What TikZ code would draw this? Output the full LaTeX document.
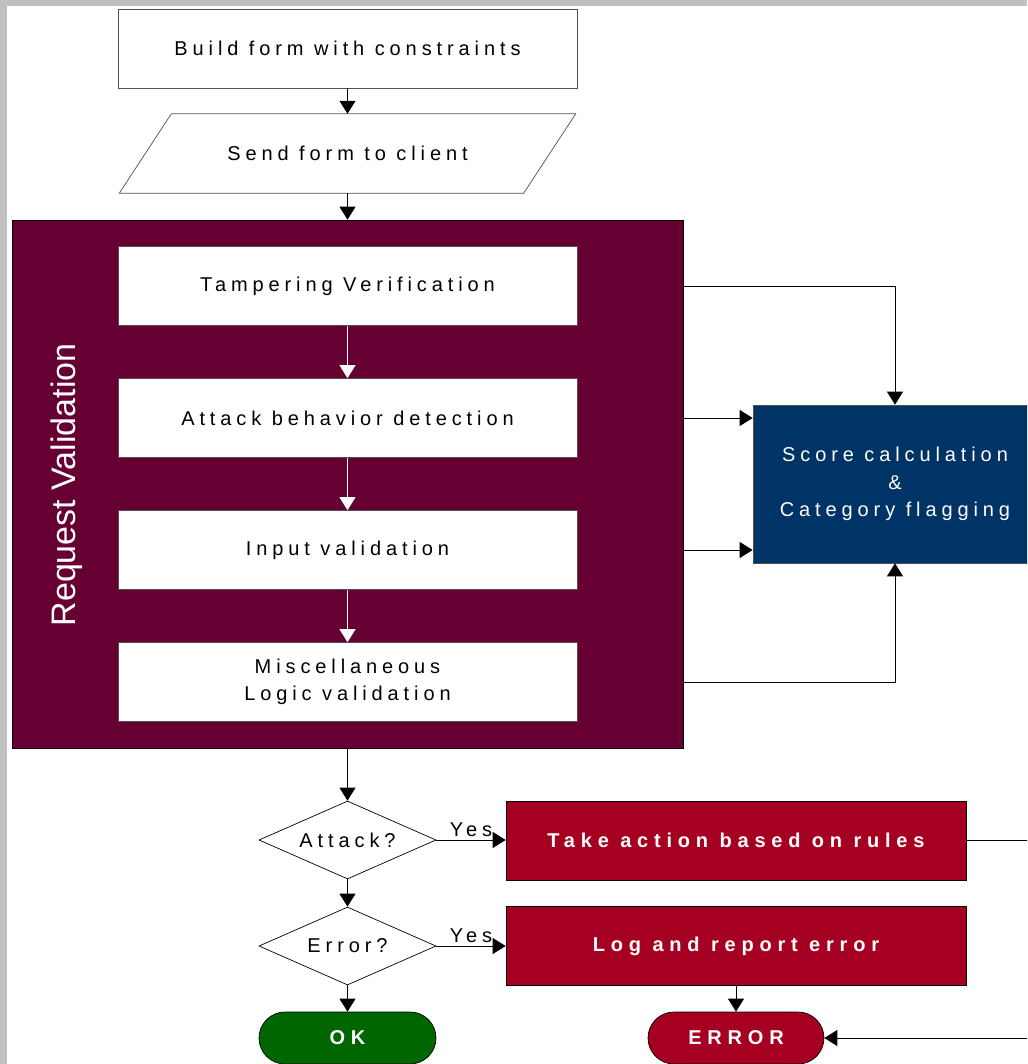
\documentclass[tikz,border=0pt]{standalone}
\usepackage{fontspec}
\setmainfont{Liberation Sans}
\newfontfamily\trackfont[LetterSpace=24.5]{Liberation Sans}
\newfontfamily\trackbold[LetterSpace=29]{Liberation Sans}
\usetikzlibrary{shapes.geometric,arrows.meta,calc}
\definecolor{bgray}{HTML}{C0C0C0}
\definecolor{maroon}{HTML}{660033}
\definecolor{navy}{HTML}{003366}
\definecolor{crimson}{HTML}{A50021}
\definecolor{dgreen}{HTML}{006600}
\definecolor{edge}{HTML}{505050}
\tikzset{
  txt/.style={font=\trackfont\fontsize{20}{27.5}\selectfont, align=center},
  bold/.style={font=\trackbold\bfseries\fontsize{20}{27.5}\selectfont, align=center},
  wbox/.style={txt, rectangle, draw=edge, line width=0.7pt, fill=white, minimum width=459pt, minimum height=79pt, inner sep=0pt},
  rbox/.style={bold, rectangle, draw=black, line width=0.7pt, fill=crimson, text=white, minimum width=460pt, minimum height=79pt, inner sep=0pt},
  dia/.style={txt, diamond, draw=black, line width=0.7pt, fill=white, aspect=2.27, minimum width=177pt, minimum height=78pt, inner sep=0pt},
  term/.style={bold, rectangle, rounded corners=26pt, draw=black, line width=0.7pt, text=white, minimum width=177pt, minimum height=52pt, inner sep=0pt},
  arr/.style={-{Triangle[length=13pt,width=16pt]}, line width=0.8pt, draw=black},
  warr/.style={-{Triangle[length=13pt,width=16pt]}, line width=0.8pt, draw=white},
  glabel/.style={txt, anchor=south, inner sep=0pt, yshift=2.5pt}
}
\begin{document}
\begin{tikzpicture}[x=1pt,y=-1pt]
\useasboundingbox (0,0) rectangle (1027,1064);
\clip (0,0) rectangle (1027,1064);
\fill[bgray] (0,0) rectangle (1027,1064);
\fill[white] (7,6) rectangle (1027,1064);

% top steps
\node[wbox] (build) at (347.5,48.5) {Build form with constraints};
\node[txt, minimum width=404pt, minimum height=79pt, inner sep=0pt] (send) at (347.5,153.5) {Send form to client};
\draw[edge, line width=0.7pt, fill=white] ([xshift=26pt]send.north west) -- ([xshift=26pt]send.north east) -- ([xshift=-26pt]send.south east) -- ([xshift=-26pt]send.south west) -- cycle;
\node[txt, minimum width=404pt, minimum height=79pt, inner sep=0pt] at (send.center) {Send form to client};

% request validation group
\node[rectangle, fill=maroon, draw=black, line width=0.7pt, minimum width=671pt, minimum height=528pt, inner sep=0pt] (rv) at (347.5,484) {};
\node[rotate=90, text=white, font=\fontsize{34}{40}\selectfont] (rvlabel) at (67,485) {Request Validation};
\node[wbox] (t1) at (347.5,286) {Tampering Verification};
\node[wbox] (t2) at (347.5,418) {Attack behavior detection};
\node[wbox] (t3) at (347.5,550) {Input validation};
\node[wbox] (t4) at (347.5,682) {Miscellaneous\\Logic validation};

% score box
\node[txt, rectangle, fill=navy, draw=edge, line width=0.7pt, text=white, minimum width=284pt, minimum height=158pt, inner sep=0pt] (sc) at (895,484) {Score calculation\\\&\\Category flagging};

% decisions
\node[dia] (att) at (347.5,840) {Attack?};
\node[dia] (err) at (347.5,946) {Error?};
\node[rbox] (ta) at (736,840.5) {Take action based on rules};
\node[rbox] (lg) at (736,946) {Log and report error};
\node[term, fill=dgreen] (ok) at (347.5,1038) {OK};
\node[term, fill=crimson, minimum width=176pt] (er) at (736,1038) {ERROR};
\coordinate (ra) at (1045,840.5);
\coordinate (rb) at (1045,1038);

% connectors
\draw[arr] (build.south) -- (build.south |- send.north);
\draw[arr] (send.south) -- (send.south |- rv.north);
\draw[warr] (t1.south) -- (t2.north);
\draw[warr] (t2.south) -- (t3.north);
\draw[warr] (t3.south) -- (t4.north);
\draw[arr] (t1.east -| rv.east) -| (sc.north);
\draw[arr] (t2.east -| rv.east) -- (t2.east -| sc.west);
\draw[arr] (t3.east -| rv.east) -- (t3.east -| sc.west);
\draw[arr] (t4.east -| rv.east) -| (sc.south);
\draw[arr] (rv.south) -- (att.north);
\draw[arr] (att.east) -- node[glabel] {Yes} (att.east -| ta.west);
\draw[arr] (err.east) -- node[glabel] {Yes} (err.east -| lg.west);
\draw[arr] (att.south) -- (err.north);
\draw[arr] (err.south) -- (ok.north);
\draw[arr] (lg.south) -- (er.north);
\draw[line width=0.8pt] (ta.east) -- (ra) -- (rb);
\draw[arr] (rb) -- (er.east);
\end{tikzpicture}
\end{document}
